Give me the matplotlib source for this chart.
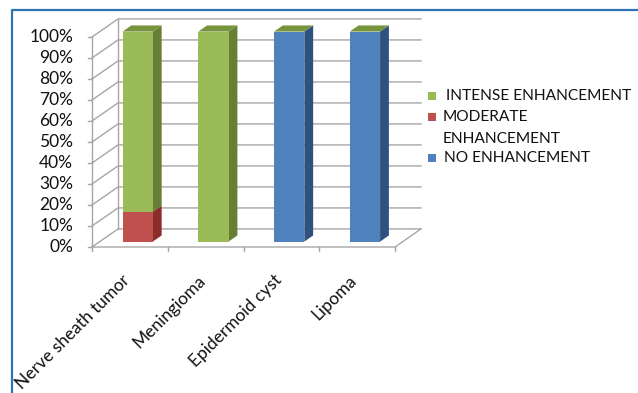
import matplotlib

matplotlib.use("Agg")
import matplotlib.pyplot as plt
from matplotlib.lines import Line2D
from matplotlib.patches import Polygon, Rectangle

plt.rcParams["font.family"] = ["Lato", "DejaVu Sans"]

# datos (porcentaje por tipo de tumor)
categories = ["Nerve sheath tumor", "Meningioma", "Epidermoid cyst", "Lipoma"]
no_enhancement = [0, 0, 100, 100]
moderate_enhancement = [14.3, 0, 0, 0]
intense_enhancement = [85.7, 100, 0, 0]
legend_labels = ["INTENSE ENHANCEMENT", "MODERATE", "ENHANCEMENT", "NO ENHANCEMENT"]
y_ticks = list(range(0, 101, 10))

W, H = 638, 393
GRID = "#A6A6A6"
TEXT = "#111111"
# colores (frente, lateral, techo) por serie
GREEN = ("#9BBB59", "#667F34", "#77933C")
RED = ("#C0504D", "#8A2D2B", "#A03C3A")
BLUE = ("#4F81BD", "#2E5180", "#3C6598")

# desplazamiento de profundidad (pared del fondo) en unidades de datos
DEPTH_X = 0.343
DEPTH_Y = 8.6
BAR_W = 0.40
D_FRONT, D_BACK = 0.30, 0.64


def proj(x, y, d):
    return (x + d * DEPTH_X, y + d * DEPTH_Y)


def px(x, y):
    """Pixel (desde arriba-izquierda) -> fracción de figura."""
    return (x / W, 1 - y / H)


fig = plt.figure(figsize=(W / 100, H / 100), dpi=100)
ax = fig.add_axes([92 / W, (H - 247) / H, 303 / W, 210 / H])
ax.set_xlim(-0.5, 3.5)
ax.set_ylim(0, 100)
ax.axis("off")

x0, x1 = -0.5, len(categories) - 0.5


def line(pts, color=GRID, lw=1.0):
    xs, ys = zip(*pts)
    ax.add_line(Line2D(xs, ys, color=color, lw=lw, clip_on=False, zorder=1))


# pared del fondo + pared lateral
for v in y_ticks:
    line([proj(x0, v, 0), proj(x0, v, 1), proj(x1, v, 1)])
line([proj(x0, 0, 1), proj(x0, 100, 1)])
line([proj(x0, 0, 0), proj(x0, 100, 0)])
# suelo
line([proj(x0, 0, 0), proj(x1, 0, 0), proj(x1, 0, 1)])

# marcas de los ejes
for v in y_ticks:
    line([(x0 - 0.055, v), (x0, v)])
    ax.text(x0 - 0.25, v, f"{v}%", ha="right", va="center", fontsize=12.5,
            color=TEXT)
for i in range(len(categories) + 1):
    line([(x0 + i, 0), (x0 + i, -2.0)])


def box(xc, y_lo, y_hi, colors, top=None):
    xa, xb = xc - BAR_W / 2, xc + BAR_W / 2
    front = [proj(xa, y_lo, D_FRONT), proj(xb, y_lo, D_FRONT),
             proj(xb, y_hi, D_FRONT), proj(xa, y_hi, D_FRONT)]
    side = [proj(xb, y_lo, D_FRONT), proj(xb, y_lo, D_BACK),
            proj(xb, y_hi, D_BACK), proj(xb, y_hi, D_FRONT)]
    ax.add_patch(Polygon(side, closed=True, fc=colors[1], ec="none", zorder=3,
                         clip_on=False))
    ax.add_patch(Polygon(front, closed=True, fc=colors[0], ec="none", zorder=3,
                         clip_on=False))
    if top is not None:
        roof = [proj(xa, y_hi, D_FRONT), proj(xb, y_hi, D_FRONT),
                proj(xb, y_hi, D_BACK), proj(xa, y_hi, D_BACK)]
        ax.add_patch(Polygon(roof, closed=True, fc=top, ec="none", zorder=3,
                             clip_on=False))


# columnas apiladas al 100 %
for i, cat in enumerate(categories):
    base = 0
    for vals, cols in ((no_enhancement, BLUE), (moderate_enhancement, RED),
                       (intense_enhancement, GREEN)):
        h = vals[i]
        if h > 0:
            box(i, base, base + h, cols)
        base += h
    # el techo lo pinta la última serie (aunque valga 0)
    box(i, base, base, GREEN, top=GREEN[2])

    ax.text(i + 0.04, -12, cat, rotation=45, ha="right", va="top",
            fontsize=12.5, color=TEXT)

# leyenda (cuadros + textos)
for color, yc in ((GREEN[0], 96), (RED[0], 117), (BLUE[0], 158)):
    fig.add_artist(Rectangle(px(428, yc + 4), 8 / W, 8 / H,
                             transform=fig.transFigure, fc=color, ec="none"))
for label, (xt, yt) in zip(legend_labels, [(446, 96), (443, 117), (443, 139), (444, 158)]):
    fig.text(*px(xt, yt), label, ha="left", va="center", fontsize=11.2, color=TEXT)

# marco azul
fig.add_artist(Line2D([12 / W, 12 / W, 1], [0, 1 - 10 / H, 1 - 10 / H],
                      transform=fig.transFigure, color="#2E75B6", lw=1.6))

fig.savefig("out.png", dpi=100)
